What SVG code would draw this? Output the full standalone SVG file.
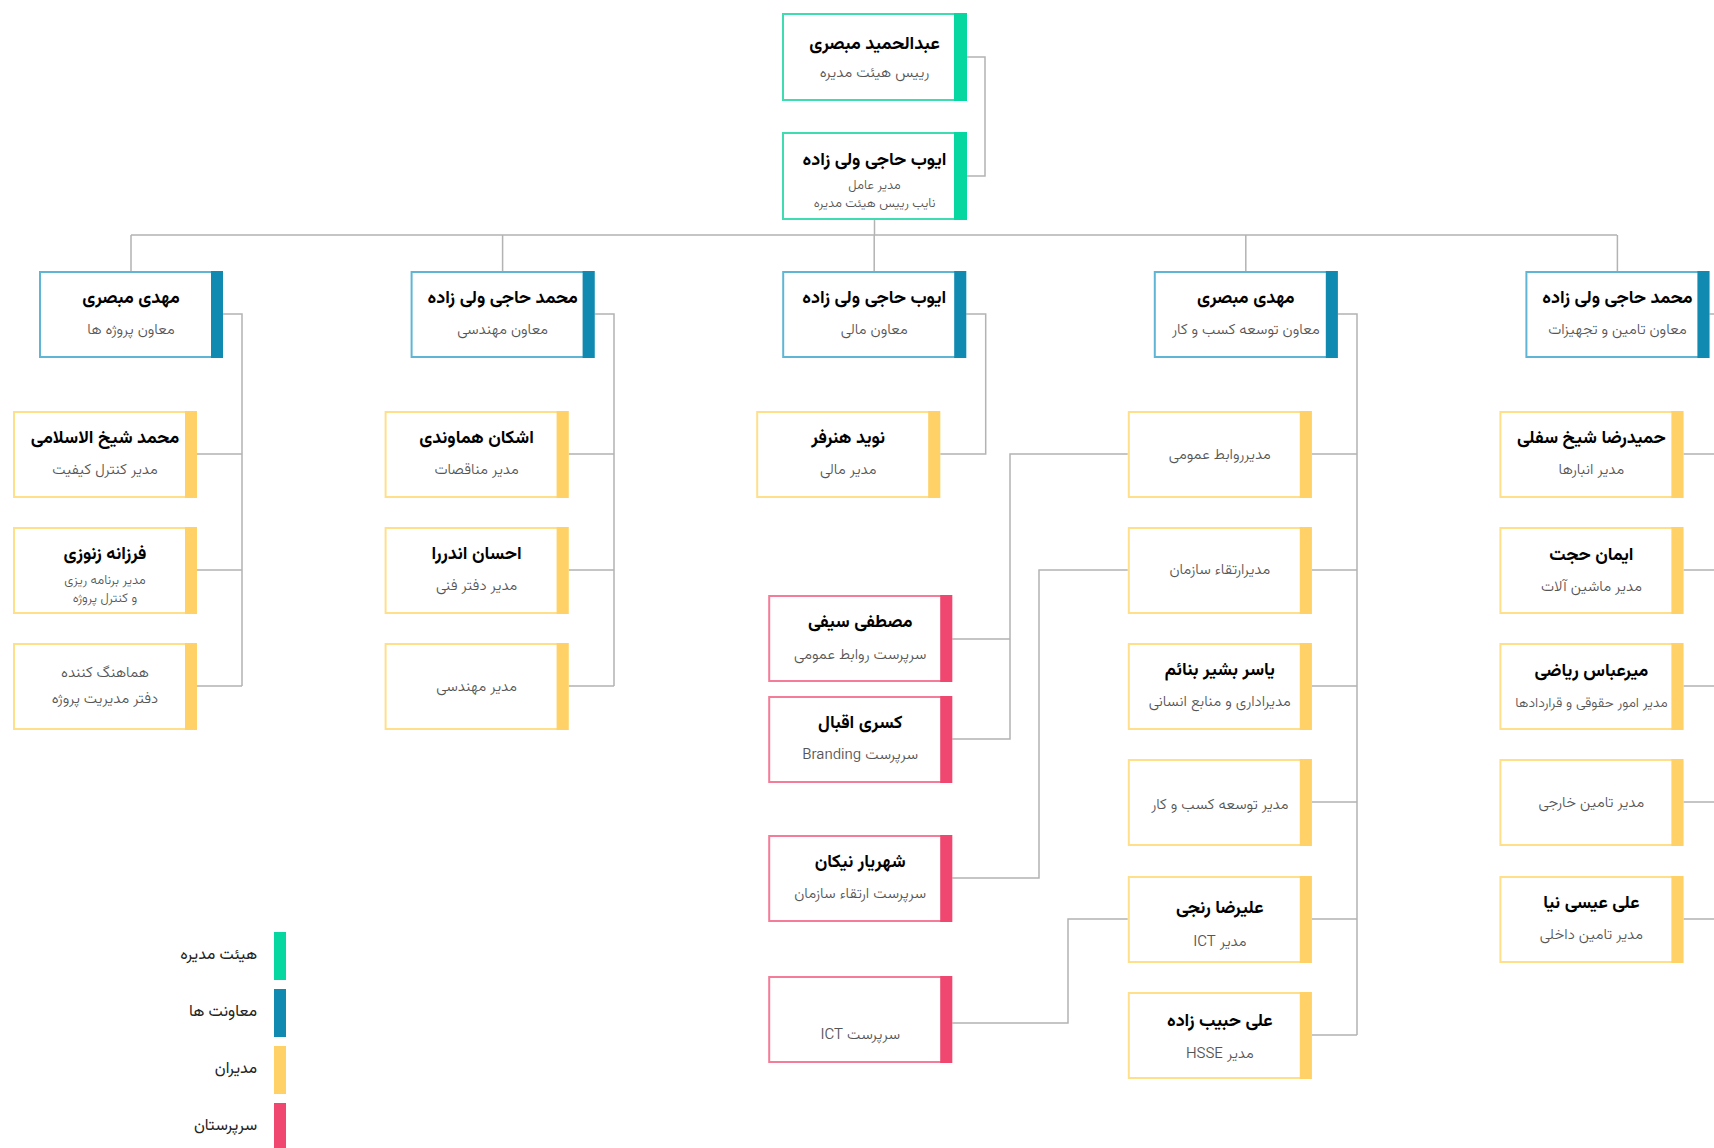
<svg xmlns="http://www.w3.org/2000/svg" width="1714" height="1148" viewBox="0 0 1714 1148">
<defs>
<style>
.bg{fill:#fff}
.box{fill:#fff;stroke-width:2}
.g .box{stroke:#3fdcb2}.g .bar{fill:#06d6a0}
.b .box{stroke:#5fb6d4}.b .bar{fill:#118ab2}
.y .box{stroke:#ffdf8a}.y .bar{fill:#ffd166}
.r .box{stroke:#f47c98}.r .bar{fill:#ef476f}
text{font-family:"Vazirmatn","Noto Sans Arabic","DejaVu Sans",sans-serif;text-anchor:middle;direction:rtl}
.n{font-size:18px;font-weight:bold;fill:#000}
.s{font-size:15px;font-weight:300;fill:#555}
.s2{font-size:13px}
.s3{font-size:14px}
.lg{font-size:16px;fill:#222;text-anchor:end;direction:ltr}
.c{fill:none;stroke:#b3b3b3;stroke-width:1.5}
</style>
</defs>
<rect class="bg" x="0" y="0" width="1714" height="1148"/>
<g id="connectors">
<path class="c" d="M967 57H985V176H967"/>
<path class="c" d="M874.5 220V235M131 235H1617M131 235V271M502.6 235V271M874.2 235V271M1245.8 235V271M1617.4 235V271"/>
<path class="c" d="M223 314H242V686M197 454H242M197 570H242M197 686H242"/>
<path class="c" d="M594.6 314H614V686M568.6 454H614M568.6 570H614M568.6 686H614"/>
<path class="c" d="M966.2 314H985.7V454H940.2"/>
<path class="c" d="M1337.8 314H1357V1035M1311.8 454H1357M1311.8 570H1357M1311.8 686H1357M1311.8 802H1357M1311.8 919H1357M1311.8 1035H1357"/>
<path class="c" d="M1709.4 314H1714M1683.4 454H1714M1683.4 570H1714M1683.4 686H1714M1683.4 802H1714M1683.4 919H1714"/>
<path class="c" d="M1127.8 454H1010V739H952.2M1010 639H952.2"/>
<path class="c" d="M1127.8 570H1039V878H952.2"/>
<path class="c" d="M1127.8 919H1068V1023H952.2"/>
</g>
<g id="n-top1" class="g"><rect class="box" x="783" y="14" width="182" height="86"/><rect class="bar" x="954" y="13" width="13" height="88"/><text class="n" x="874.5" y="49">عبدالحمید مبصری</text><text class="s" x="874.5" y="77">رییس هیئت مدیره</text></g>
<g id="n-top2" class="g"><rect class="box" x="783" y="133" width="182" height="86"/><rect class="bar" x="954" y="132" width="13" height="88"/><text class="n" x="874.5" y="165">ایوب حاجی ولی زاده</text><text class="s s2" x="874.5" y="189">مدیر عامل</text><text class="s s2" x="874.5" y="207">نایب رییس هیئت مدیره</text></g>

<g id="n-v1" class="b"><rect class="box" x="40" y="272" width="182" height="85"/><rect class="bar" x="211" y="271" width="12" height="87"/><text class="n" x="131" y="303">مهدی مبصری</text><text class="s" x="131" y="334">معاون پروژه ها</text></g>
<g id="n-v2" class="b"><rect class="box" x="411.6" y="272" width="182" height="85"/><rect class="bar" x="582.6" y="271" width="12" height="87"/><text class="n" x="502.6" y="303">محمد حاجی ولی زاده</text><text class="s" x="502.6" y="334">معاون مهندسی</text></g>
<g id="n-v3" class="b"><rect class="box" x="783.2" y="272" width="182" height="85"/><rect class="bar" x="954.2" y="271" width="12" height="87"/><text class="n" x="874.2" y="303">ایوب حاجی ولی زاده</text><text class="s" x="874.2" y="334">معاون مالی</text></g>
<g id="n-v4" class="b"><rect class="box" x="1154.8" y="272" width="182" height="85"/><rect class="bar" x="1325.8" y="271" width="12" height="87"/><text class="n" x="1245.8" y="303">مهدی مبصری</text><text class="s" x="1245.8" y="334">معاون توسعه کسب و کار</text></g>
<g id="n-v5" class="b"><rect class="box" x="1526.4" y="272" width="182" height="85"/><rect class="bar" x="1697.4" y="271" width="12" height="87"/><text class="n" x="1617.4" y="303">محمد حاجی ولی زاده</text><text class="s" x="1617.4" y="334">معاون تامین و تجهیزات</text></g>

<g id="n-m11" class="y"><rect class="box" x="14" y="412" width="182" height="85"/><rect class="bar" x="185" y="411" width="12" height="87"/><text class="n" x="105" y="443">محمد شیخ الاسلامی</text><text class="s" x="105" y="474">مدیر کنترل کیفیت</text></g>
<g id="n-m12" class="y"><rect class="box" x="14" y="528" width="182" height="85"/><rect class="bar" x="185" y="527" width="12" height="87"/><text class="n" x="105" y="559">فرزانه زنوزی</text><text class="s s2" x="105" y="584">مدیر برنامه ریزی</text><text class="s s2" x="105" y="602">و کنترل پروژه</text></g>
<g id="n-m13" class="y"><rect class="box" x="14" y="644" width="182" height="85"/><rect class="bar" x="185" y="643" width="12" height="87"/><text class="s" x="105" y="677">هماهنگ کننده</text><text class="s" x="105" y="703">دفتر مدیریت پروژه</text></g>

<g id="n-m21" class="y"><rect class="box" x="385.6" y="412" width="182" height="85"/><rect class="bar" x="556.6" y="411" width="12" height="87"/><text class="n" x="476.6" y="443">اشکان هماوندی</text><text class="s" x="476.6" y="474">مدیر مناقصات</text></g>
<g id="n-m22" class="y"><rect class="box" x="385.6" y="528" width="182" height="85"/><rect class="bar" x="556.6" y="527" width="12" height="87"/><text class="n" x="476.6" y="559">احسان اندررا</text><text class="s" x="476.6" y="590">مدیر دفتر فنی</text></g>
<g id="n-m23" class="y"><rect class="box" x="385.6" y="644" width="182" height="85"/><rect class="bar" x="556.6" y="643" width="12" height="87"/><text class="s" x="476.6" y="691">مدیر مهندسی</text></g>

<g id="n-m31" class="y"><rect class="box" x="757.2" y="412" width="182" height="85"/><rect class="bar" x="928.2" y="411" width="12" height="87"/><text class="n" x="848.2" y="443">نوید هنرفر</text><text class="s" x="848.2" y="474">مدیر مالی</text></g>

<g id="n-s1" class="r"><rect class="box" x="769.2" y="596" width="182" height="85"/><rect class="bar" x="940.2" y="595" width="12" height="87"/><text class="n" x="860.2" y="627">مصطفی سیفی</text><text class="s" x="860.2" y="659">سرپرست روابط عمومی</text></g>
<g id="n-s2" class="r"><rect class="box" x="769.2" y="697" width="182" height="85"/><rect class="bar" x="940.2" y="696" width="12" height="87"/><text class="n" x="860.2" y="728">کسری اقبال</text><text class="s" x="860.2" y="759">سرپرست Branding</text></g>
<g id="n-s3" class="r"><rect class="box" x="769.2" y="836" width="182" height="85"/><rect class="bar" x="940.2" y="835" width="12" height="87"/><text class="n" x="860.2" y="867">شهریار نیکان</text><text class="s" x="860.2" y="898">سرپرست ارتقاء سازمان</text></g>
<g id="n-s4" class="r"><rect class="box" x="769.2" y="977" width="182" height="85"/><rect class="bar" x="940.2" y="976" width="12" height="87"/><text class="s" x="860.2" y="1039">سرپرست ICT</text></g>

<g id="n-m41" class="y"><rect class="box" x="1128.8" y="412" width="182" height="85"/><rect class="bar" x="1299.8" y="411" width="12" height="87"/><text class="s" x="1219.8" y="459">مدیرروابط عمومی</text></g>
<g id="n-m42" class="y"><rect class="box" x="1128.8" y="528" width="182" height="85"/><rect class="bar" x="1299.8" y="527" width="12" height="87"/><text class="s" x="1219.8" y="574">مدیرارتقاء سازمان</text></g>
<g id="n-m43" class="y"><rect class="box" x="1128.8" y="644" width="182" height="85"/><rect class="bar" x="1299.8" y="643" width="12" height="87"/><text class="n" x="1219.8" y="675">یاسر بشیر بنائم</text><text class="s" x="1219.8" y="706">مدیراداری و منابع انسانی</text></g>
<g id="n-m44" class="y"><rect class="box" x="1128.8" y="760" width="182" height="85"/><rect class="bar" x="1299.8" y="759" width="12" height="87"/><text class="s" x="1219.8" y="809">مدیر توسعه کسب و کار</text></g>
<g id="n-m45" class="y"><rect class="box" x="1128.8" y="877" width="182" height="85"/><rect class="bar" x="1299.8" y="876" width="12" height="87"/><text class="n" x="1219.8" y="913">علیرضا رنجی</text><text class="s" x="1219.8" y="946">مدیر ICT</text></g>
<g id="n-m46" class="y"><rect class="box" x="1128.8" y="993" width="182" height="85"/><rect class="bar" x="1299.8" y="992" width="12" height="87"/><text class="n" x="1219.8" y="1026">علی حبیب زاده</text><text class="s" x="1219.8" y="1058">مدیر HSSE</text></g>

<g id="n-m51" class="y"><rect class="box" x="1500.4" y="412" width="182" height="85"/><rect class="bar" x="1671.4" y="411" width="12" height="87"/><text class="n" x="1591.4" y="443">حمیدرضا شیخ سفلی</text><text class="s" x="1591.4" y="474">مدیر انبارها</text></g>
<g id="n-m52" class="y"><rect class="box" x="1500.4" y="528" width="182" height="85"/><rect class="bar" x="1671.4" y="527" width="12" height="87"/><text class="n" x="1591.4" y="560">ایمان حجت</text><text class="s" x="1591.4" y="591">مدیر ماشین آلات</text></g>
<g id="n-m53" class="y"><rect class="box" x="1500.4" y="644" width="182" height="85"/><rect class="bar" x="1671.4" y="643" width="12" height="87"/><text class="n" x="1591.4" y="676">میرعباس ریاضی</text><text class="s s3" x="1591.4" y="707">مدیر امور حقوقی و قراردادها</text></g>
<g id="n-m54" class="y"><rect class="box" x="1500.4" y="760" width="182" height="85"/><rect class="bar" x="1671.4" y="759" width="12" height="87"/><text class="s" x="1591.4" y="807">مدیر تامین خارجی</text></g>
<g id="n-m55" class="y"><rect class="box" x="1500.4" y="877" width="182" height="85"/><rect class="bar" x="1671.4" y="876" width="12" height="87"/><text class="n" x="1591.4" y="908">علی عیسی نیا</text><text class="s" x="1591.4" y="939">مدیر تامین داخلی</text></g>

<g id="legend">
<rect x="274" y="932" width="12" height="48" fill="#06d6a0"/><text class="lg" x="257" y="959">هیئت مدیره</text>
<rect x="274" y="989" width="12" height="48" fill="#118ab2"/><text class="lg" x="257" y="1016">معاونت ها</text>
<rect x="274" y="1046" width="12" height="48" fill="#ffd166"/><text class="lg" x="257" y="1073">مدیران</text>
<rect x="274" y="1103" width="12" height="48" fill="#ef476f"/><text class="lg" x="257" y="1130">سرپرستان</text>
</g>
</svg>
